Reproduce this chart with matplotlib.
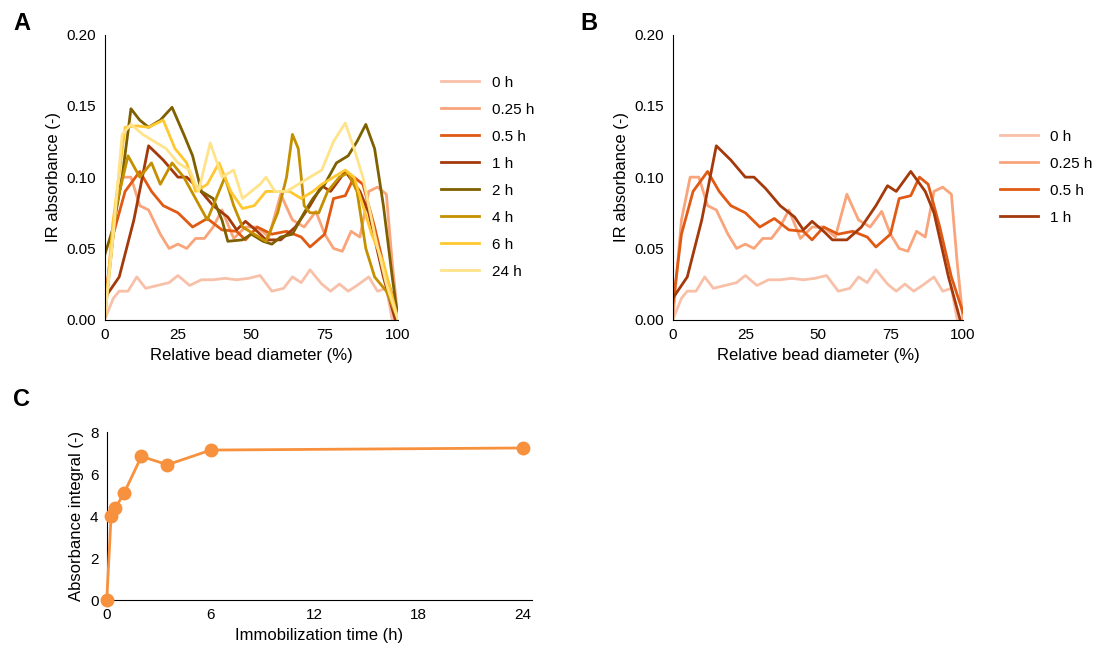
import numpy as np
import matplotlib.pyplot as plt

plt.rcParams['font.family'] = ['Liberation Sans', 'DejaVu Sans']
plt.rcParams['font.size'] = 11

# panel A/B series: (x %, absorbance)
x_0h = [0, 3, 5, 8, 11, 14, 18, 22, 25, 29, 33, 37, 41, 45, 49, 53, 57, 61, 64, 67, 70, 74, 77, 80, 83, 86, 90, 93, 96, 98]
y_0h = [0.0, 0.015, 0.02, 0.02, 0.03, 0.022, 0.024, 0.026, 0.031, 0.024, 0.028, 0.028, 0.029, 0.028, 0.029, 0.031,
        0.02, 0.022, 0.03, 0.026, 0.035, 0.025, 0.02, 0.025, 0.02, 0.024, 0.03, 0.02, 0.022, 0.0]
x_025h = [0, 3, 6, 9, 12, 15, 19, 22, 25, 28, 31, 34, 37, 40, 44, 48, 52, 56, 60, 64, 68, 72, 75, 78, 81, 84, 87, 90, 93, 96, 98, 100]
y_025h = [0.0, 0.07, 0.1, 0.1, 0.08, 0.077, 0.06, 0.05, 0.053, 0.05, 0.057, 0.057, 0.065, 0.077, 0.057, 0.065,
          0.065, 0.058, 0.088, 0.07, 0.065, 0.076, 0.06, 0.05, 0.048, 0.062, 0.058, 0.09, 0.093, 0.088, 0.04, 0.0]
x_05h = [0, 3, 7, 12, 16, 20, 25, 30, 35, 40, 45, 48, 52, 57, 62, 67, 70, 75, 78, 82, 85, 88, 92, 96, 100]
y_05h = [0.01, 0.06, 0.09, 0.104, 0.09, 0.08, 0.075, 0.065, 0.071, 0.063, 0.062, 0.056, 0.065, 0.06, 0.062, 0.058,
         0.051, 0.06, 0.085, 0.087, 0.1, 0.095, 0.065, 0.03, 0.005]
x_1h = [0, 5, 10, 15, 20, 25, 28, 32, 37, 42, 45, 48, 52, 55, 60, 65, 70, 74, 77, 82, 87, 90, 95, 99]
y_1h = [0.015, 0.03, 0.07, 0.122, 0.112, 0.1, 0.1, 0.092, 0.08, 0.072, 0.063, 0.069, 0.062, 0.056, 0.056, 0.065,
        0.08, 0.094, 0.09, 0.104, 0.09, 0.075, 0.03, 0.0]
x_2h = [0, 3, 6, 9, 12, 15, 19, 23, 27, 30, 33, 37, 40, 42, 47, 50, 54, 57, 60, 64, 68, 71, 75, 79, 83, 86, 89, 92, 95, 98, 100]
y_2h = [0.045, 0.065, 0.1, 0.148, 0.14, 0.135, 0.14, 0.149, 0.13, 0.115, 0.09, 0.085, 0.07, 0.055, 0.056, 0.06,
        0.055, 0.053, 0.058, 0.06, 0.075, 0.085, 0.095, 0.11, 0.115, 0.125, 0.137, 0.12, 0.08, 0.03, 0.0]
x_4h = [0, 4, 8, 12, 16, 19, 23, 27, 31, 35, 39, 41, 44, 47, 51, 55, 59, 62, 64, 66, 68, 70, 73, 76, 80, 83, 86, 89, 92, 96, 100]
y_4h = [0.0, 0.08, 0.115, 0.1, 0.11, 0.095, 0.11, 0.1, 0.085, 0.07, 0.09, 0.1, 0.08, 0.065, 0.06, 0.055, 0.075,
        0.1, 0.13, 0.12, 0.08, 0.075, 0.075, 0.09, 0.1, 0.103, 0.09, 0.05, 0.03, 0.02, 0.0]
x_6h = [0, 3, 7, 11, 15, 20, 24, 28, 31, 35, 39, 43, 47, 51, 55, 59, 63, 67, 71, 74, 78, 82, 85, 88, 91, 95, 100]
y_6h = [0.0, 0.07, 0.135, 0.136, 0.135, 0.14, 0.12, 0.11, 0.09, 0.095, 0.11, 0.09, 0.078, 0.08, 0.09, 0.09, 0.09,
        0.085, 0.09, 0.095, 0.1, 0.105, 0.1, 0.08, 0.06, 0.04, 0.0]
x_24h = [0, 3, 6, 9, 13, 17, 21, 25, 29, 32, 36, 40, 44, 47, 50, 53, 55, 58, 62, 66, 70, 74, 78, 82, 85, 88, 92, 96, 100]
y_24h = [0.0, 0.06, 0.13, 0.137, 0.13, 0.125, 0.12, 0.11, 0.105, 0.09, 0.124, 0.1, 0.105, 0.085, 0.09, 0.095, 0.1,
         0.09, 0.09, 0.095, 0.1, 0.105, 0.125, 0.138, 0.12, 0.1, 0.06, 0.025, 0.0]

labels = ['0 h', '0.25 h', '0.5 h', '1 h', '2 h', '4 h', '6 h', '24 h']
colors = ['#f8c0a8', '#f9a47a', '#e05a14', '#a43a0c', '#7f6000', '#c49000', '#ffc830', '#ffe38a']
series = [(x_0h, y_0h), (x_025h, y_025h), (x_05h, y_05h), (x_1h, y_1h),
          (x_2h, y_2h), (x_4h, y_4h), (x_6h, y_6h), (x_24h, y_24h)]

# panel C
time_h = [0, 0.25, 0.5, 1, 2, 3.5, 6, 24]
integral = [0, 4.0, 4.4, 5.1, 6.85, 6.45, 7.15, 7.25]

fig = plt.figure(figsize=(11.12, 6.66), dpi=100)


def style_profile(ax):
    ax.set_xlim(0, 100)
    ax.set_ylim(0, 0.2)
    ax.set_xticks([0, 25, 50, 75, 100])
    ax.set_yticks(np.arange(0, 0.201, 0.05))
    ax.yaxis.set_major_formatter(plt.FormatStrFormatter('%.2f'))
    for s in ['top', 'right']:
        ax.spines[s].set_visible(False)
    ax.tick_params(length=0, labelsize=11, pad=6)
    ax.set_xlabel('Relative bead diameter (%)', fontsize=12)
    ax.set_ylabel('IR absorbance (-)', fontsize=12)


axA = fig.add_axes([0.094, 0.52, 0.264, 0.428])
for (x, y), c, l in zip(series, colors, labels):
    axA.plot(x, y, color=c, lw=2, label=l)
style_profile(axA)
axA.legend(loc='center left', bbox_to_anchor=(1.1, 0.5), frameon=False, fontsize=11,
           handlelength=2.5, labelspacing=0.85)

axB = fig.add_axes([0.605, 0.52, 0.261, 0.428])
for (x, y), c, l in list(zip(series, colors, labels))[:4]:
    axB.plot(x, y, color=c, lw=2, label=l)
style_profile(axB)
axB.legend(loc='center left', bbox_to_anchor=(1.08, 0.5), frameon=False, fontsize=11,
           handlelength=2.5, labelspacing=0.85)

axC = fig.add_axes([0.096, 0.099, 0.382, 0.252])
axC.plot(time_h, integral, color='#f7913d', lw=2, marker='o', ms=9, clip_on=False, zorder=3)
axC.set_xlim(0, 24.5)
axC.set_ylim(0, 8)
axC.set_xticks([0, 6, 12, 18, 24])
axC.set_yticks([0, 2, 4, 6, 8])
for s in ['top', 'right']:
    axC.spines[s].set_visible(False)
axC.tick_params(length=0, labelsize=11, pad=6)
axC.set_xlabel('Immobilization time (h)', fontsize=12)
axC.set_ylabel('Absorbance integral (-)', fontsize=12)

fig.text(0.012, 0.955, 'A', fontsize=17, fontweight='bold')
fig.text(0.522, 0.955, 'B', fontsize=17, fontweight='bold')
fig.text(0.012, 0.39, 'C', fontsize=17, fontweight='bold')

fig.savefig('out.png', dpi=100)
